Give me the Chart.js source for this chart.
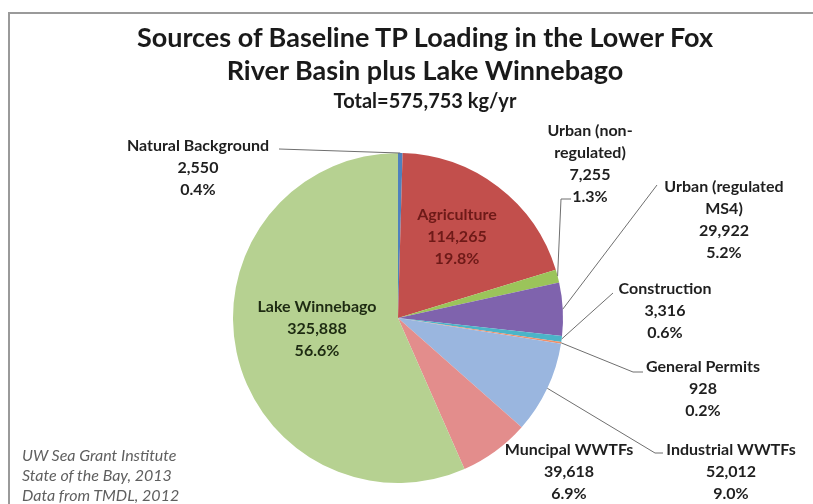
<!DOCTYPE html>
<html>
<head>
<meta charset="utf-8">
<script src="https://cdn.jsdelivr.net/npm/chart.js@4"></script>
<style>
  body { margin: 0; background: #fff; overflow: hidden; }
  #wrap { position: relative; width: 813px; height: 504px; overflow: hidden; }
  #frame { position: absolute; left: 8px; top: 12px; width: 900px; height: 600px;
           border: 2px solid #9a9a9a; box-sizing: border-box; }
  canvas { position: absolute; left: 0; top: 0; }
  .title { position: absolute; left: 75px; width: 700px; text-align: center;
           font-family: Lato, sans-serif; font-weight: bold; color: #1a1a1a; line-height: 1; }
  #footer { position: absolute; left: 22px; top: 445px; font-family: Lato, sans-serif;
            font-style: italic; font-size: 16px; line-height: 20px; color: #5f5f5f; }
</style>
</head>
<body>
<div id="wrap">
  <div id="frame"></div>
  <canvas id="chart" width="813" height="504"></canvas>
  <div class="title" style="top:23px;font-size:27px;">Sources of Baseline TP Loading in the Lower Fox</div>
  <div class="title" style="top:56px;font-size:27px;">River Basin plus Lake Winnebago</div>
  <div class="title" style="top:90px;font-size:20px;">Total=575,753 kg/yr</div>
  <div id="footer">UW Sea Grant Institute<br>State of the Bay, 2013<br>Data from TMDL, 2012</div>
</div>
<script>
// slices, clockwise from 12 o'clock
const categories = [
  ["Natural Background"],
  ["Agriculture"],
  ["Urban (non-", "regulated)"],
  ["Urban (regulated", "MS4)"],
  ["Construction"],
  ["General Permits"],
  ["Industrial WWTFs"],
  ["Muncipal WWTFs"],
  ["Lake Winnebago"]
];
const loads = [2550, 114265, 7255, 29922, 3316, 928, 52012, 39618, 325888];
const colors = ["#4f81bd", "#c24f4c", "#9bc45a", "#7f63ad", "#4bb4c8", "#f0906a", "#9ab6df", "#e38d8c", "#b6d191"];

// label placement: centre of first text line, and leader-line points before the slice edge
const labelPos = [
  { x: 198, y: 146, color: "#1f1f1f", lead: [[279, 149]] },
  { x: 457, y: 215, color: "#6e1a18", lead: null },
  { x: 590, y: 131, color: "#1f1f1f", lead: [[571, 199], [561, 199]] },
  { x: 724, y: 187, color: "#1f1f1f", lead: [[657, 185]] },
  { x: 665, y: 289, color: "#1f1f1f", lead: [[613, 293]] },
  { x: 703, y: 367, color: "#1f1f1f", lead: [[643, 372], [633, 372]] },
  { x: 731, y: 450, color: "#1f1f1f", lead: [[663, 453], [655, 453]] },
  { x: 569, y: 450, color: "#1f1f1f", lead: null },
  { x: 317, y: 307, color: "#1e2b12", lead: null }
];

const total = loads.reduce((a, b) => a + b, 0);

const sliceLabels = {
  id: "sliceLabels",
  afterDatasetsDraw(chart) {
    const ctx = chart.ctx;
    const arcs = chart.getDatasetMeta(0).data;
    ctx.save();
    arcs.forEach((arc, i) => {
      const p = labelPos[i];
      const mid = (arc.startAngle + arc.endAngle) / 2;
      const ax = arc.x + Math.cos(mid) * arc.outerRadius;
      const ay = arc.y + Math.sin(mid) * arc.outerRadius;
      if (p.lead) {
        ctx.strokeStyle = "#6f6f6f";
        ctx.lineWidth = 1;
        ctx.beginPath();
        ctx.moveTo(p.lead[0][0], p.lead[0][1]);
        p.lead.slice(1).forEach(pt => ctx.lineTo(pt[0], pt[1]));
        ctx.lineTo(ax, ay);
        ctx.stroke();
      }
      const lines = [...categories[i],
        loads[i].toLocaleString("en-US"),
        (loads[i] / total * 100).toFixed(1) + "%"];
      ctx.fillStyle = p.color;
      ctx.font = "bold 16px Lato, sans-serif";
      ctx.textAlign = "center";
      ctx.textBaseline = "middle";
      lines.forEach((t, k) => ctx.fillText(t, p.x, p.y + k * 22));
    });
    ctx.restore();
  }
};

new Chart(document.getElementById("chart"), {
  type: "pie",
  data: {
    labels: categories.map(c => c.join(" ")),
    datasets: [{
      data: loads,
      backgroundColor: colors,
      borderWidth: 0
    }]
  },
  options: {
    responsive: false,
    animation: false,
    layout: { padding: { left: 233, right: 250, top: 153, bottom: 21 } },
    plugins: {
      legend: { display: false },
      tooltip: { enabled: false }
    }
  },
  plugins: [sliceLabels]
});
</script>
</body>
</html>
